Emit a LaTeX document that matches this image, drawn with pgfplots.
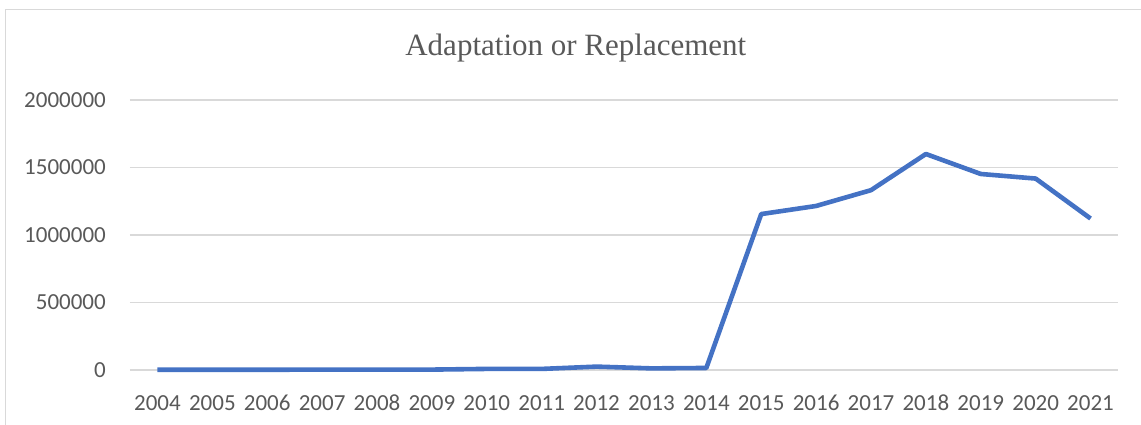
\documentclass[border=0pt]{standalone}
\usepackage{pgfplots}
\pgfplotsset{compat=1.18}
\usepackage{fontspec}
\setmainfont{Carlito}
\newfontfamily\titlefont{Liberation Serif}
\definecolor{lineblue}{HTML}{4472C4}
\definecolor{gridgray}{HTML}{D9D9D9}
\definecolor{textgray}{HTML}{595959}
\pgfplotstableread{
x year value
0 2004 2000
1 2005 2000
2 2006 2000
3 2007 2500
4 2008 2500
5 2009 3000
6 2010 8000
7 2011 8000
8 2012 25000
9 2013 12000
10 2014 15000
11 2015 1155000
12 2016 1215000
13 2017 1332000
14 2018 1600000
15 2019 1452000
16 2020 1418000
17 2021 1122000
}\datatable
\begin{document}
\begin{tikzpicture}
\useasboundingbox (0pt,0pt) rectangle (1141pt,425pt);
\begin{scope}
\clip (0pt,0pt) rectangle (1141pt,425pt);
\draw[gridgray, line width=1.8pt] (5.5pt,415.5pt) rectangle (1170pt,-30pt);
\end{scope}
\node[anchor=base, text=textgray, font=\titlefont\fontsize{31}{36}\selectfont, inner sep=0pt] at (575.8pt,369pt) {Adaptation or Replacement};
\begin{axis}[
  at={(130pt,55pt)}, anchor=south west,
  scale only axis, width=988pt, height=270pt,
  xmin=-0.5, xmax=17.5, ymin=0, ymax=2000000,
  axis line style={draw=none},
  major tick length=0pt,
  scaled y ticks=false,
  xtick={0,...,17},
  xticklabels={2004,2005,2006,2007,2008,2009,2010,2011,2012,2013,2014,2015,2016,2017,2018,2019,2020,2021},
  ytick={0,500000,1000000,1500000,2000000},
  yticklabels={0,500000,1000000,1500000,2000000},
  ymajorgrids,
  grid style={gridgray, line width=1.2pt},
  tick label style={text=textgray, font=\fontsize{23}{27}\selectfont, inner sep=0pt},
  yticklabel style={anchor=east, xshift=-24pt},
  xticklabel style={anchor=north, yshift=-25pt},
  clip=false,
]
\addplot[color=lineblue, line width=4.6pt, line join=round] table[x=x, y=value] {\datatable};
\end{axis}
\end{tikzpicture}
\end{document}
